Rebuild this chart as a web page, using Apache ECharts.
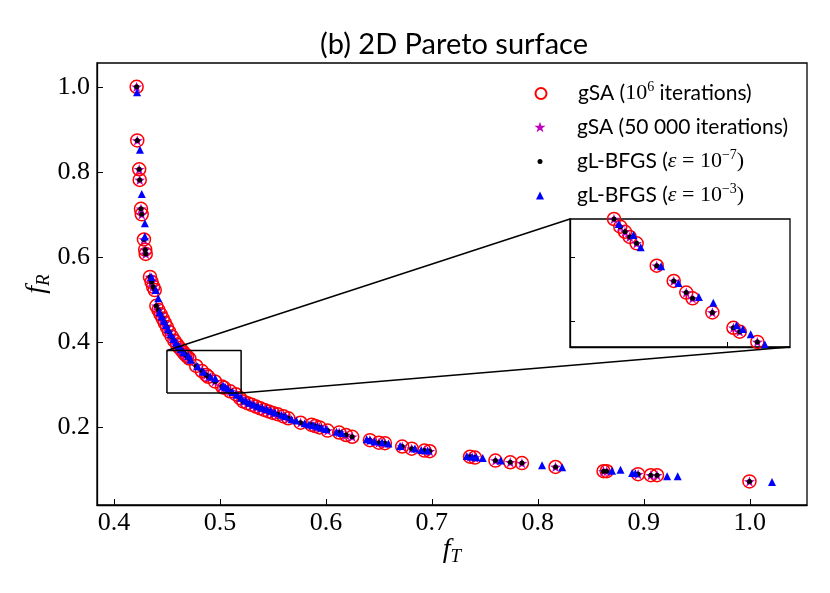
<!DOCTYPE html>
<html>
<head>
<meta charset="utf-8">
<script src="https://cdn.jsdelivr.net/npm/echarts@6/dist/echarts.min.js"></script>
<style>
html,body{margin:0;padding:0;background:#fff;}
#main{width:830px;height:593px;}
</style>
</head>
<body>
<div id="main"></div>
<script>
// gSA (10^6 iterations) —— 红色空心圆
var gsaLongX = [0.4214,0.4220,0.4238,0.4243,0.4255,0.4262,0.4283,0.4295,0.4300,0.4340,0.4355,0.4370,0.4385,
  0.4400,0.4420,0.4440,0.4460,0.4480,0.4500,0.4520,0.4545,0.4570,0.4595,0.4620,0.4640,0.4660,0.4675,0.4690,0.4712,
  0.4776,0.4830,0.4870,0.4890,0.4953,0.5020,0.5040,0.5096,0.5150,0.5190,0.5220,0.5260,0.5300,0.5340,0.5380,0.5420,
  0.5460,0.5500,0.5544,0.5600,0.5645,0.5761,0.5865,0.5900,0.5940,0.6016,0.6125,0.6190,0.6248,0.6415,0.6500,0.6557,
  0.6720,0.6810,0.6930,0.6980,0.7360,0.7406,0.7600,0.7740,0.7850,0.8167,0.8620,0.8650,0.8946,0.9066,0.9125,0.9997];
var gsaLongY = [1.000,0.874,0.806,0.781,0.713,0.700,0.641,0.617,0.607,0.553,0.541,0.530,0.522,
  0.485,0.475,0.465,0.455,0.445,0.435,0.424,0.413,0.403,0.394,0.386,0.380,0.374,0.370,0.366,0.361,
  0.3435,0.3316,0.3225,0.318,0.307,0.295,0.292,0.284,0.277,0.268,0.260,0.256,0.252,0.248,0.244,0.240,
  0.2365,0.233,0.230,0.225,0.2205,0.210,0.205,0.202,0.199,0.1915,0.187,0.181,0.177,0.169,0.163,0.162,
  0.154,0.149,0.1445,0.143,0.130,0.128,0.121,0.117,0.115,0.106,0.096,0.096,0.089,0.0865,0.0865,0.072];
// gSA (50 000 iterations) —— 星号落在圆心
var gsaShortX = gsaLongX;
var gsaShortY = gsaLongY;
// gL-BFGS (eps=1e-7) —— 黑点
var bfgs7X = gsaLongX;
var bfgs7Y = gsaLongY;
// gL-BFGS (eps=1e-3) —— 蓝色三角
var bfgs3X = [0.4218,0.4245,0.4262,0.4292,0.4292,0.4355,0.4395,0.4418,0.4430,0.4450,0.4470,0.4490,0.4510,0.4535,
  0.4560,0.4585,0.4610,0.4630,0.4655,0.4702,0.4725,0.4790,0.4845,0.4910,0.4956,0.5030,0.5050,0.5075,0.5120,0.5160,
  0.5200,0.5240,0.5280,0.5320,0.5360,0.5400,0.5440,0.5480,0.5520,0.5580,0.5620,0.5676,0.5720,0.5800,0.5840,0.5880,
  0.5920,0.5960,0.6000,0.6100,0.6150,0.6385,0.6420,0.6460,0.6530,0.6590,0.6700,0.6840,0.6900,0.6960,0.7330,0.7380,
  0.7420,0.7480,0.7650,0.8040,0.8230,0.8700,0.8780,0.8890,0.8920,0.9220,0.9320,1.0210];
var bfgs3Y = [0.9875,0.852,0.748,0.679,0.648,0.553,0.522,0.503,0.470,0.460,0.450,0.440,0.430,0.418,
  0.407,0.398,0.389,0.383,0.376,0.3675,0.358,0.343,0.330,0.319,0.3146,0.297,0.294,0.290,0.282,0.276,
  0.269,0.262,0.257,0.253,0.249,0.245,0.242,0.238,0.234,0.229,0.225,0.218,0.215,0.209,0.206,0.204,
  0.201,0.198,0.195,0.189,0.186,0.171,0.169,0.166,0.164,0.161,0.155,0.1495,0.146,0.1445,0.132,0.130,
  0.129,0.127,0.121,0.110,0.105,0.097,0.0995,0.092,0.091,0.084,0.084,0.0706];

// 坐标轴刻度
var mainXTicks = [0.4,0.5,0.6,0.7,0.8,0.9,1.0];
var mainYTicks = [0.2,0.4,0.6,0.8,1.0];
var insetXTicks = [0.5];
var insetYTicks = [0.30,0.35];
// 放大区域
var insetXRange = [0.45,0.52];
var insetYRange = [0.28,0.38];

var names = ['gsaLong','gsaShort','bfgs7','bfgs3'];
var labels = {
  gsaLong: '{t|gSA (}{m|10}{sup|6}{t| iterations)}',
  gsaShort: '{t|gSA (50 000 iterations)}',
  bfgs7: '{t|gL-BFGS (}{mi|ε}{m| = 10}{sup|−7}{m|)}',
  bfgs3: '{t|gL-BFGS (}{mi|ε}{m| = 10}{sup|−3}{m|)}'
};

function zip(xs, ys){
  var out = [];
  for(var i=0;i<xs.length;i++){ out.push([xs[i], ys[i]]); }
  return out;
}

var starPath = 'path://M0,-10L2.35,-3.24L9.51,-3.09L3.8,1.24L5.88,8.09L0,4L-5.88,8.09L-3.8,1.24L-9.51,-3.09L-2.35,-3.24Z';

function makeSeries(idx){
  return [
    {name:'gsaLong', type:'scatter', xAxisIndex:idx, yAxisIndex:idx, clip:true, z:2,
      data: zip(gsaLongX, gsaLongY), symbol:'circle', symbolSize:13,
      itemStyle:{color:'rgba(0,0,0,0)', borderColor:'#ff0000', borderWidth:1.5, opacity:1}},
    {name:'gsaShort', type:'scatter', xAxisIndex:idx, yAxisIndex:idx, clip:true, z:3,
      data: zip(gsaShortX, gsaShortY), symbol:starPath, symbolSize:11, symbolKeepAspect:true,
      itemStyle:{color:'#bf00bf', opacity:1}},
    {name:'bfgs7', type:'scatter', xAxisIndex:idx, yAxisIndex:idx, clip:true, z:4,
      data: zip(bfgs7X, bfgs7Y), symbol:'circle', symbolSize:5,
      itemStyle:{color:'#000000', opacity:1}},
    {name:'bfgs3', type:'scatter', xAxisIndex:idx, yAxisIndex:idx, clip:true, z:5,
      data: zip(bfgs3X, bfgs3Y), symbol:'triangle', symbolSize:8,
      itemStyle:{color:'#0000ff', opacity:1}}
  ];
}

var richText = {
  t:{fontFamily:'Lato', fontSize:21, color:'#000'},
  m:{fontFamily:'Liberation Serif', fontSize:22, color:'#000'},
  mi:{fontFamily:'Liberation Serif', fontStyle:'italic', fontSize:22, color:'#000'},
  sup:{fontFamily:'Liberation Serif', fontSize:14, color:'#000', padding:[0,0,13,0]},
  gap:{}
};

// 图例：图标中心 x=540，文字起点 x=577
var legendRowY = [93, 127, 161, 195];
var legendIcon = [11, 11, 5, 8];
var legends = names.map(function(n, i){
  var s = legendIcon[i];
  var rich = {};
  for(var k in richText){ rich[k] = richText[k]; }
  rich.gap = {width: 577 - (540 + s / 2 + 5)};
  return {
    data:[n], left:540 - s / 2, top: legendRowY[i] - 13, padding:0,
    itemWidth:s, itemHeight:s, itemGap:0,
    selectedMode:false,
    formatter:function(name){ return '{gap|}' + labels[name]; },
    textStyle:{lineHeight:26, rich:rich}
  };
});

var rectData = [[insetXRange[0],insetYRange[0]],[insetXRange[1],insetYRange[0]],
  [insetXRange[1],insetYRange[1]],[insetXRange[0],insetYRange[1]],[insetXRange[0],insetYRange[0]]];

var axisNameRich = {
  i:{fontFamily:'Liberation Serif', fontStyle:'italic', fontSize:28, color:'#000'},
  s:{fontFamily:'Liberation Serif', fontStyle:'italic', fontSize:19, color:'#000', padding:[14,0,0,0]}
};

var option = {
  animation:false,
  backgroundColor:'#fff',
  title:{
    text:'(b) 2D Pareto surface', left:449, top:25, textAlign:'center',
    textStyle:{fontFamily:'Lato', fontWeight:'normal', fontSize:29, color:'#000'}
  },
  legend: legends,
  grid:[
    {left:97, top:63, right:23, bottom:88, show:true, borderColor:'#000', borderWidth:1.3, backgroundColor:'#fff'},
    {left:570, top:219, width:220, height:128, show:true, borderColor:'#000', borderWidth:1.3, backgroundColor:'#fff'}
  ],
  xAxis:[
    {type:'value', gridIndex:0, min:0.384, max:1.054,
      name:'{i|f}{s|T}', nameLocation:'middle', nameGap:28, nameMoveOverlap:false, nameTextStyle:{rich:axisNameRich},
      axisLine:{show:true, onZero:false, lineStyle:{color:'#000', width:1.3}},
      axisTick:{show:true, inside:true, length:6, customValues:mainXTicks, lineStyle:{color:'#000', width:1}},
      axisLabel:{show:true, customValues:mainXTicks, margin:5, color:'#000',
        fontFamily:'Liberation Serif', fontSize:26, formatter:function(v){ return v.toFixed(1); }},
      splitLine:{show:false}},
    {type:'value', gridIndex:1, min:insetXRange[0], max:insetXRange[1],
      axisLine:{show:true, onZero:false, lineStyle:{color:'#000', width:1.3}},
      axisTick:{show:true, inside:true, length:5, customValues:insetXTicks, lineStyle:{color:'#000'}},
      axisLabel:{show:false}, splitLine:{show:false}}
  ],
  yAxis:[
    {type:'value', gridIndex:0, min:0.0165, max:1.056,
      name:'{i|f}{s|R}', nameLocation:'middle', nameGap:44, nameMoveOverlap:false, nameRotate:90, nameTextStyle:{rich:axisNameRich},
      axisLine:{show:true, onZero:false, lineStyle:{color:'#000', width:1.3}},
      axisTick:{show:true, inside:true, length:6, customValues:mainYTicks, lineStyle:{color:'#000', width:1}},
      axisLabel:{show:true, customValues:mainYTicks, margin:7, color:'#000',
        fontFamily:'Liberation Serif', fontSize:26, formatter:function(v){ return v.toFixed(1); }},
      splitLine:{show:false}},
    {type:'value', gridIndex:1, min:insetYRange[0], max:insetYRange[1],
      axisLine:{show:true, onZero:false, lineStyle:{color:'#000', width:1.3}},
      axisTick:{show:true, inside:true, length:5, customValues:insetYTicks, lineStyle:{color:'#000'}},
      axisLabel:{show:false}, splitLine:{show:false}}
  ],
  series: makeSeries(0).concat(makeSeries(1)).concat([
    {name:'zoomBox', type:'line', xAxisIndex:0, yAxisIndex:0, data:rectData, symbol:'none', z:8,
      lineStyle:{color:'#000', width:1.5}, silent:true}
  ])
};

var chart = echarts.init(document.getElementById('main'));
chart.setOption(option);

// 连接线：放大框角点 -> 插图角点
var a1 = chart.convertToPixel({xAxisIndex:0, yAxisIndex:0}, [insetXRange[0], insetYRange[1]]);
var b1 = chart.convertToPixel({xAxisIndex:1, yAxisIndex:1}, [insetXRange[0], insetYRange[1]]);
var a2 = chart.convertToPixel({xAxisIndex:0, yAxisIndex:0}, [insetXRange[1], insetYRange[0]]);
var b2 = chart.convertToPixel({xAxisIndex:1, yAxisIndex:1}, [insetXRange[1], insetYRange[0]]);
chart.setOption({
  graphic:[
    {type:'rect', left:508, top:72, shape:{width:282, height:142, r:4}, z:-1,
      style:{fill:'#fff', stroke:'#cccccc', lineWidth:1}},
    {type:'line', z:20, shape:{x1:a1[0], y1:a1[1], x2:b1[0], y2:b1[1]}, style:{stroke:'#000', lineWidth:1.5}},
    {type:'line', z:20, shape:{x1:a2[0], y1:a2[1], x2:b2[0], y2:b2[1]}, style:{stroke:'#000', lineWidth:1.5}}
  ]
});
</script>
</body>
</html>
